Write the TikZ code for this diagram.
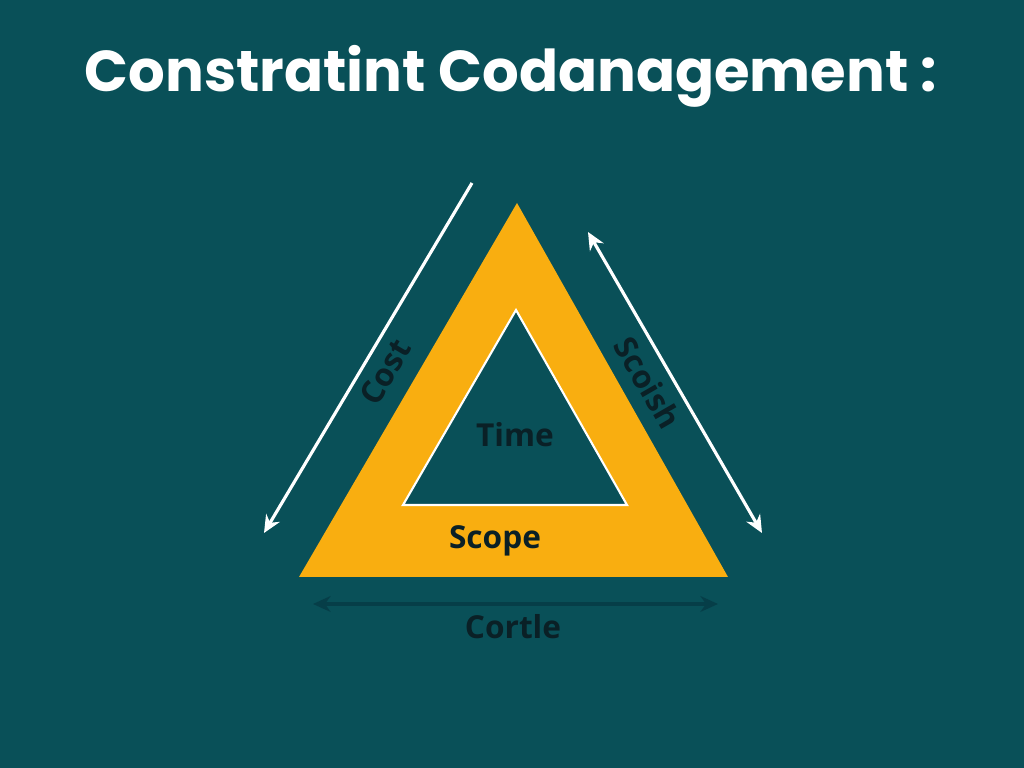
\documentclass[tikz,border=0pt]{standalone}
\usepackage{fontspec}
\setmainfont{Open Sans}
\newfontfamily\titlefont{Poppins}
\usetikzlibrary{arrows.meta}
\definecolor{bgteal}{RGB}{9,80,88}
\definecolor{darkteal}{RGB}{6,62,72}
\definecolor{gold}{RGB}{249,174,16}
\definecolor{ink}{RGB}{10,32,38}
\tikzset{
    lbl/.style={text=ink,font=\bfseries\fontsize{9}{11}\selectfont},
    whitearrow/.style={draw=white,line width=0.9pt},
    tip/.tip={Stealth[length=5pt,width=4.5pt]}
}

\begin{document}
\begin{tikzpicture}
                \fill[bgteal] (0,0) rectangle (10.24,7.68);
                \useasboundingbox (0,0) rectangle (10.24,7.68);

                \node (title) at (5.11,6.92) [text=white,font=\titlefont\bfseries\fontsize{16.4}{19}\selectfont] {Constratint Codanagement :};

                \coordinate (o1) at (5.17,5.65);
                \coordinate (o2) at (2.99,1.91);
                \coordinate (o3) at (7.28,1.91);
                \coordinate (i1) at (5.16,4.58);
                \coordinate (i2) at (4.03,2.63);
                \coordinate (i3) at (6.27,2.63);
                \fill[gold] (o1) -- (o2) -- (o3) -- cycle;
                \filldraw[fill=bgteal,draw=white,line width=0.6pt,line join=miter] (i1) -- (i2) -- (i3) -- cycle;

                \node (time) at (5.15,3.33) [lbl] {Time};
                \node (scope) at (4.95,2.27) [lbl] {Scope};

                \coordinate (c1) at (4.72,5.85);
                \coordinate (c2) at (2.64,2.35);
                \draw[whitearrow,-tip] (c1) -- (c2);
                \node (cost) at (3.85,3.96) [lbl,rotate=59.4,inner sep=1pt] {Cost};

                \coordinate (s1) at (5.88,5.36);
                \coordinate (s2) at (7.62,2.35);
                \draw[whitearrow,tip-tip] (s1) -- (s2);
                \node (scoish) at (6.48,3.85) [lbl,rotate=-60,inner sep=1pt] {Scoish};

                \coordinate (b1) at (3.13,1.64);
                \coordinate (b2) at (7.18,1.64);
                \draw[draw=darkteal,line width=0.9pt,tip-tip] (b1) -- (b2);
                \node (cortle) at (5.13,1.41) [lbl] {Cortle};
            \end{tikzpicture}
\end{document}
